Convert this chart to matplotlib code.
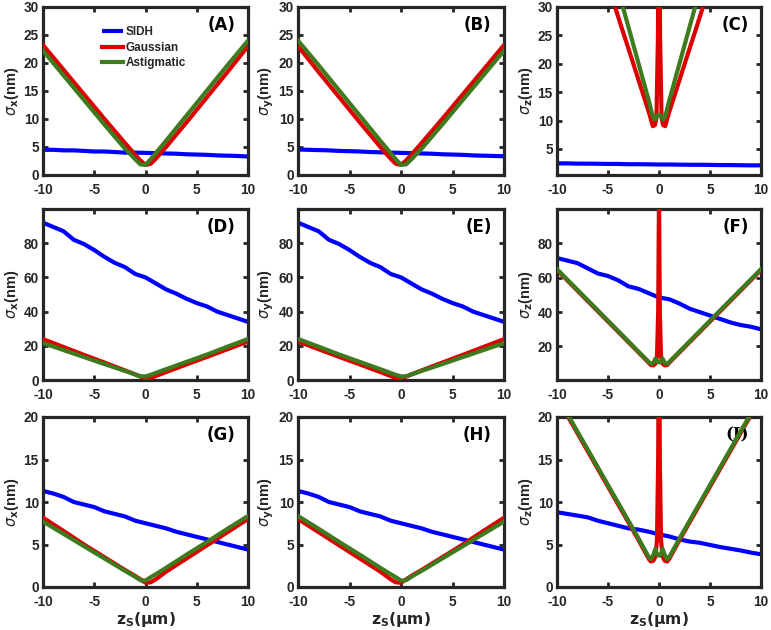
import matplotlib
matplotlib.use("Agg")
import matplotlib.pyplot as plt

plt.rcParams['axes.unicode_minus'] = False
plt.rcParams['font.family'] = ['DejaVu Sans']
plt.rcParams['mathtext.fontset'] = 'dejavusans'

# ---------------- data ----------------
z_blue = [-10, -9, -8, -7, -6, -5, -4, -3, -2, -1, 0, 1, 2, 3, 4, 5, 6, 7, 8, 9, 10]
zV = [-10, -8, -6, -4, -2, -1, -0.5, 0, 0.5, 1, 2, 4, 6, 8, 10]
zC = [-10, -8, -6, -4.5, -3.6, -3, -2, -1, -0.6, -0.4, -0.25, -0.1, 0,
      0.1, 0.25, 0.4, 0.6, 1, 2, 3, 3.6, 4.5, 6, 8, 10]
zF = [-10, -8, -6, -4, -2, -1, -0.8, -0.55, -0.35, -0.2, -0.08, 0,
      0.08, 0.2, 0.35, 0.55, 0.8, 1, 2, 4, 6, 8, 10]

# Row 1
A_sidh = [4.5, 4.5, 4.4, 4.4, 4.3, 4.2, 4.2, 4.1, 4.0, 4.0, 3.95, 3.9, 3.85, 3.8, 3.7, 3.65, 3.6, 3.5, 3.45, 3.4, 3.3]
A_gauss = [23.2, 18.8, 14.4, 10.0, 5.7, 3.6, 2.6, 1.8, 2.0, 2.9, 5.0, 9.4, 13.9, 18.4, 23.0]
A_astig = [22.2, 17.8, 13.4, 9.0, 4.7, 2.8, 1.9, 1.8, 2.8, 3.9, 6.1, 10.6, 15.1, 19.6, 24.0]
B_sidh = [4.55, 4.5, 4.45, 4.4, 4.3, 4.25, 4.2, 4.1, 4.05, 4.0, 3.95, 3.9, 3.85, 3.8, 3.7, 3.65, 3.6, 3.5, 3.45, 3.4, 3.35]
B_gauss = [23.0, 18.4, 13.9, 9.4, 5.0, 2.9, 2.0, 1.8, 2.6, 3.6, 5.7, 10.0, 14.4, 18.8, 23.2]
B_astig = [24.0, 19.6, 15.1, 10.6, 6.1, 3.9, 2.8, 1.8, 1.9, 2.8, 4.7, 9.0, 13.4, 17.8, 22.2]
C_sidh = [2.45, 2.45, 2.4, 2.4, 2.38, 2.35, 2.35, 2.3, 2.3, 2.28, 2.25, 2.25, 2.22, 2.2, 2.2, 2.18, 2.15, 2.15, 2.12, 2.1, 2.1]
C_gauss = [62, 50.8, 39.5, 31.1, 26, 22.7, 17.1, 11.5, 9.0, 9.2, 10.5, 25, 80,
           25, 10.5, 9.2, 9.0, 11.5, 17.1, 22.7, 26, 31.1, 39.5, 50.8, 62]
C_astig = [71, 58, 45, 36.3, 30.4, 26.5, 20, 13.5, 10.6, 10.2, 10.6, 11.0, 11.0,
           11.0, 10.6, 10.2, 10.6, 13.5, 20, 26.5, 30.4, 36.3, 45, 58, 71]

# Row 2
D_sidh = [92, 89.5, 87, 82, 79.5, 76, 72, 68.5, 66, 62, 60, 56.5, 53, 50.5, 47.5, 45, 43, 40, 38, 36, 34]
D_gauss = [23.9, 19.3, 14.7, 10.2, 5.6, 3.3, 2.0, 0.9, 1.2, 2.3, 4.6, 9.1, 13.5, 18.0, 22.5]
D_astig = [21.6, 17.5, 13.4, 9.3, 5.3, 3.2, 2.2, 2.1, 3.0, 4.1, 6.3, 10.6, 14.9, 19.5, 24.0]
E_sidh = [92, 89.5, 87, 82, 79.5, 76, 72, 68.5, 66, 62, 60, 56.5, 53, 50.5, 47.5, 45, 43, 40, 38, 36, 34]
E_gauss = [22.5, 18.0, 13.5, 9.1, 4.6, 2.3, 1.2, 0.9, 2.0, 3.3, 5.6, 10.2, 14.7, 19.3, 23.9]
E_astig = [24.0, 19.5, 14.9, 10.6, 6.3, 4.1, 3.0, 2.1, 2.2, 3.2, 5.3, 9.3, 13.4, 17.5, 21.6]
F_sidh = [71.5, 70, 68.5, 65.5, 62.5, 61, 58.5, 55, 53.5, 51, 48.5, 47.5, 45, 42, 40, 38, 36, 34, 32.5, 31.5, 30]
F_gauss = [64.5, 52.5, 40.5, 28.5, 16.5, 10.5, 9.2, 9.0, 10.0, 14.0, 40, 110,
           40, 14.0, 10.0, 9.0, 9.2, 10.5, 16.5, 28.5, 40.5, 52.5, 64.5]
F_astig = [65, 53, 41, 29, 17, 11, 10, 10.5, 13, 11.5, 10.8, 10.8,
           10.8, 11.5, 13, 10.5, 10, 11, 17, 29, 41, 53, 65]

# Row 3
G_sidh = [11.3, 11.0, 10.6, 10.0, 9.7, 9.4, 8.9, 8.6, 8.3, 7.8, 7.5, 7.2, 6.9, 6.5, 6.2, 5.9, 5.6, 5.3, 5.0, 4.7, 4.4]
G_gauss = [8.15, 6.6, 5.0, 3.5, 2.0, 1.3, 0.9, 0.5, 0.55, 0.9, 1.8, 3.35, 4.9, 6.45, 8.0]
G_astig = [7.7, 6.25, 4.8, 3.35, 1.9, 1.2, 0.8, 0.75, 1.15, 1.5, 2.25, 3.8, 5.3, 6.85, 8.35]
H_sidh = [11.3, 11.0, 10.6, 10.0, 9.7, 9.4, 8.9, 8.6, 8.3, 7.8, 7.5, 7.2, 6.9, 6.5, 6.2, 5.9, 5.6, 5.3, 5.0, 4.7, 4.4]
H_gauss = [8.0, 6.45, 4.9, 3.35, 1.8, 0.9, 0.55, 0.5, 0.9, 1.3, 2.0, 3.5, 5.0, 6.6, 8.15]
H_astig = [8.35, 6.85, 5.3, 3.8, 2.25, 1.5, 1.15, 0.75, 0.8, 1.2, 1.9, 3.35, 4.8, 6.25, 7.7]
I_sidh = [8.8, 8.6, 8.4, 8.2, 7.8, 7.5, 7.2, 6.9, 6.75, 6.5, 6.2, 5.95, 5.6, 5.35, 5.2, 4.95, 4.7, 4.5, 4.3, 4.05, 3.85]
I_gauss = [22.3, 18.1, 13.9, 9.7, 5.5, 3.3, 3.0, 3.1, 3.6, 5.5, 15, 40,
           15, 5.5, 3.6, 3.1, 3.0, 3.3, 5.5, 9.7, 13.9, 18.1, 22.3]
I_astig = [22.5, 18.3, 14.1, 9.9, 5.7, 3.5, 3.3, 3.8, 4.5, 3.9, 3.7, 3.7,
           3.7, 3.9, 4.5, 3.8, 3.3, 3.5, 5.7, 9.9, 14.1, 18.3, 22.5]

x_ticks = [-10, -5, 0, 5, 10]
series_labels = ['SIDH', 'Gaussian', 'Astigmatic']

panels = [
    # letter, ylabel sub, zgrid, sidh, gauss, astig, ylim, yticks
    ('A', 'x', zV, A_sidh, A_gauss, A_astig, (0, 30), [0, 5, 10, 15, 20, 25, 30]),
    ('B', 'y', zV, B_sidh, B_gauss, B_astig, (0, 30), [0, 5, 10, 15, 20, 25, 30]),
    ('C', 'z', zC, C_sidh, C_gauss, C_astig, (0.4, 30), [5, 10, 15, 20, 25, 30]),
    ('D', 'x', zV, D_sidh, D_gauss, D_astig, (0, 100), [0, 20, 40, 60, 80]),
    ('E', 'y', zV, E_sidh, E_gauss, E_astig, (0, 100), [0, 20, 40, 60, 80]),
    ('F', 'z', zF, F_sidh, F_gauss, F_astig, (0.5, 100), [20, 40, 60, 80]),
    ('G', 'x', zV, G_sidh, G_gauss, G_astig, (0, 20), [0, 5, 10, 15, 20]),
    ('H', 'y', zV, H_sidh, H_gauss, H_astig, (0, 20), [0, 5, 10, 15, 20]),
    ('I', 'z', zF, I_sidh, I_gauss, I_astig, (0, 20), [0, 5, 10, 15, 20]),
]

# ---------------- styling ----------------
W, H = 771, 630
fig = plt.figure(figsize=(W / 100, H / 100), dpi=100)
DARK = '#262626'
C_BLUE = '#0000FF'
C_RED = '#DD0000'
C_GREEN = '#3E7A1E'
SANS = ['Liberation Sans', 'DejaVu Sans']

col_left = [43, 298, 557]
col_width = [205, 206, 204]
row_top = [7, 209, 417]
row_bottom = [175, 380, 587]

for i, (letter, sub, zg, sidh, gauss, astig, ylim, yticks) in enumerate(panels):
    r, c = divmod(i, 3)
    ax = fig.add_axes([col_left[c] / W, 1 - row_bottom[r] / H,
                       col_width[c] / W, (row_bottom[r] - row_top[r]) / H])
    ax.plot(z_blue, sidh, color=C_BLUE, lw=3.0, label=series_labels[0],
            solid_capstyle='butt', zorder=2)
    ax.plot(zg, gauss, color=C_RED, lw=3.0, label=series_labels[1],
            solid_joinstyle='round', zorder=3)
    ax.plot(zg, astig, color=C_GREEN, lw=3.0, label=series_labels[2],
            solid_joinstyle='round', zorder=4)
    ax.set_xlim(-10, 10)
    ax.set_ylim(*ylim)
    ax.set_xticks(x_ticks)
    ax.set_xticklabels([str(t) for t in x_ticks])
    ax.set_yticks(yticks)
    ax.set_yticklabels([str(t) for t in yticks])
    for sp in ax.spines.values():
        sp.set_linewidth(2.3)
        sp.set_color(DARK)
    ax.tick_params(direction='in', length=3.5, width=2.0, color=DARK,
                   top=True, right=True, labelsize=9.8, labelcolor=DARK)
    ax.tick_params(axis='x', pad=5.5)
    ax.tick_params(axis='y', pad=3)
    for lab in ax.get_xticklabels() + ax.get_yticklabels():
        lab.set_fontweight('bold')
        lab.set_family(SANS)
    ax.set_ylabel(r'$\sigma_{\mathbf{%s}}$(nm)' % sub, fontsize=10.5,
                  fontweight='bold', color=DARK, labelpad=2, family=SANS)
    if letter == 'I':
        ax.text(0.94, 0.893, '(I)', transform=ax.transAxes, ha='right', va='center',
                fontsize=12, fontweight='bold', color='black',
                family=['DejaVu Serif', 'DejaVu Sans'])
    else:
        ax.text(0.94, 0.893, '(%s)' % letter, transform=ax.transAxes, ha='right',
                va='center', fontsize=12, fontweight='bold', color='black')
    if r == 2:
        ax.set_xlabel(r'$\mathbf{z_S}$(μm)', fontsize=11.2, fontweight='bold',
                      color=DARK)
        ax.xaxis.set_label_coords(0.5, -0.137)
    if letter == 'A':
        leg = ax.legend(loc='upper left', bbox_to_anchor=(0.29, 0.885), frameon=False,
                        handlelength=1.75, handletextpad=0.2, labelspacing=0.3,
                        borderpad=0.0, borderaxespad=0.0,
                        prop={'weight': 'bold', 'size': 8.5, 'family': SANS})
        for t in leg.get_texts():
            t.set_color(DARK)

fig.savefig('out.png', dpi=100)
